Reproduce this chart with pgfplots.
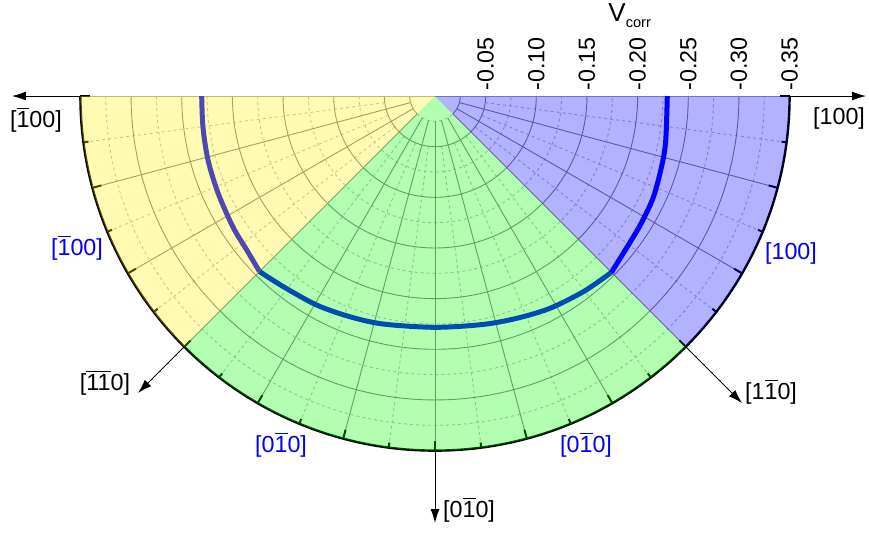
\documentclass[border=0pt]{standalone}
\usepackage{fontspec}
\setmainfont{Liberation Sans}
\usepackage{pgfplots}
\pgfplotsset{compat=1.18}
\usetikzlibrary{arrows.meta}
\newcommand{\ob}[1]{\smash{$\overline{\mbox{#1}}$}}
\def\U{506.5pt}
\colorlet{gsolid}{black!50}
\colorlet{gdash}{black!28}
\begin{document}
\begin{tikzpicture}[font=\fontsize{11.65}{14}\selectfont]
% ---------- grid (under the translucent sectors)
\begin{scope}[line width=0.45pt]
  \foreach \r in {0.075,0.125,0.175,0.225,0.275,0.325}
    \draw[gdash, dash pattern=on 1.5pt off 1.5pt] (180:{\r*\U}) arc[start angle=180, end angle=360, radius={\r*\U}];
  \foreach \a in {187.5,202.5,217.5,232.5,247.5,262.5,277.5,292.5,307.5,322.5,337.5,352.5}
    \draw[gdash, dash pattern=on 1.5pt off 1.5pt] (\a:{0.05*\U}) -- (\a:{0.35*\U});
  \draw[gdash, dash pattern=on 1.5pt off 1.5pt] (225:{0.025*\U}) arc[start angle=225, end angle=315, radius={0.025*\U}];
  \draw[gsolid] (180:{0.025*\U}) arc[start angle=180, end angle=225, radius={0.025*\U}];
  \draw[gsolid] (315:{0.025*\U}) arc[start angle=315, end angle=360, radius={0.025*\U}];
  \foreach \r in {0.05,0.10,0.15,0.20,0.25,0.30}
    \draw[gsolid] (180:{\r*\U}) arc[start angle=180, end angle=360, radius={\r*\U}];
  \foreach \a in {195,210,225,240,255,270,285,300,315,330,345}
    \draw[gsolid] (\a:{0.025*\U}) -- (\a:{0.35*\U});
  \draw[black!35, line width=0.4pt] (180:{0.35*\U}) -- (0:{0.35*\U});
\end{scope}
% ---------- outer circle and its ticks
\draw[line width=1.2pt] (180:{0.35*\U}) arc[start angle=180, end angle=360, radius={0.35*\U}];
\foreach \a in {180,195,210,225,240,255,270,285,300,315,330,345,360}
  \draw[line width=1pt] (\a:{0.35*\U}) -- (\a:{0.341*\U});
\foreach \a in {187.5,202.5,217.5,232.5,247.5,262.5,277.5,292.5,307.5,322.5,337.5,352.5}
  \draw[line width=1pt] (\a:{0.35*\U}) -- (\a:{0.345*\U});
% ---------- data
\begin{axis}[at={(0,0)}, anchor=origin, x=\U, y=\U,
  xmin=-0.43, xmax=0.43, ymin=-0.43, ymax=0.095,
  hide axis, clip=false]
\addplot[blue, line width=2.5pt, line cap=butt, smooth, tension=0.5, data cs=polar] coordinates {
(180,0.2303) (187.6,0.2311) (195.7,0.2328) (204.1,0.2346) (213.0,0.2377)
(219.3,0.2401) (225,0.2450)
};
\addplot[blue, line width=2.5pt, line cap=butt, smooth, tension=0.5, data cs=polar] coordinates {
(225,0.2450) (231.5,0.2405) (240.5,0.2371) (248.9,0.2335)
(257.2,0.2308) (270,0.2283) (281.9,0.2304) (290.2,0.2338) (298.4,0.2383)
(307.2,0.2424) (315,0.2462)
};
\addplot[blue, line width=2.5pt, line cap=butt, smooth, tension=0.5, data cs=polar] coordinates {
(315,0.2462) (321.9,0.2412) (328.25,0.2392) (335.3,0.2375)
(343.5,0.2340) (349.2,0.2319) (360,0.2293)
};
\end{axis}
% ---------- translucent sectors on top
\fill[yellow, fill opacity=0.3] (0,0) -- (180:{0.35*\U}) arc[start angle=180, end angle=225, radius={0.35*\U}] -- cycle;
\fill[green, fill opacity=0.3] (0,0) -- (225:{0.35*\U}) arc[start angle=225, end angle=315, radius={0.35*\U}] -- cycle;
\fill[blue, fill opacity=0.3] (0,0) -- (315:{0.35*\U}) arc[start angle=315, end angle=360, radius={0.35*\U}] -- cycle;
% ---------- radial tick labels
\foreach \k/\t in {1/-0.05,2/-0.10,3/-0.15,4/-0.20,5/-0.25,6/-0.30,7/-0.35}
  \node[rotate=90, anchor=west, inner sep=0pt] at ({0.05*\k*\U},2.5pt) {\t};
\node[anchor=base west, inner sep=0pt] at ({0.1708*\U},{0.0731*\U})
  {\fontsize{13}{15}\selectfont V\raisebox{-3pt}{\fontsize{7.3}{8}\selectfont corr}};
% ---------- arrows
\begin{scope}[line width=0.5pt, -{Latex[length=7pt,width=4.5pt]}]
  \draw (180:{0.35*\U}) -- (180:{0.4176*\U});
  \draw (0:{0.35*\U}) -- (0:{0.4255*\U});
  \draw (270:{0.3514*\U}) -- (270:{0.4215*\U});
  \draw (225:{0.35*\U}) -- (225:{0.4146*\U});
  \draw (315:{0.35*\U}) -- (315:{0.4286*\U});
\end{scope}
% ---------- direction labels
\begin{scope}[inner sep=0pt]
  \node at ({-0.3939*\U},{-0.0247*\U}) {[\ob{1}00]};
  \node at ({0.3988*\U},{-0.0217*\U}) {[100]};
  \node[blue] at ({-0.3534*\U},{-0.1510*\U}) {[\ob{1}00]};
  \node[blue] at ({0.3514*\U},{-0.1550*\U}) {[100]};
  \node[blue] at ({-0.1520*\U},{-0.3455*\U}) {[0\ob{1}0]};
  \node[blue] at ({0.1491*\U},{-0.3455*\U}) {[0\ob{1}0]};
  \node at ({-0.3258*\U},{-0.2843*\U}) {[\ob{11}0]};
  \node at ({0.3317*\U},{-0.2932*\U}) {[1\ob{1}0]};
  \node at ({0.0336*\U},{-0.4097*\U}) {[0\ob{1}0]};
\end{scope}
\pgfresetboundingbox
\path[use as bounding box] ({-0.4294*\U},{-0.4304*\U}) rectangle ({0.4284*\U},{0.0948*\U});
\end{tikzpicture}
\end{document}
